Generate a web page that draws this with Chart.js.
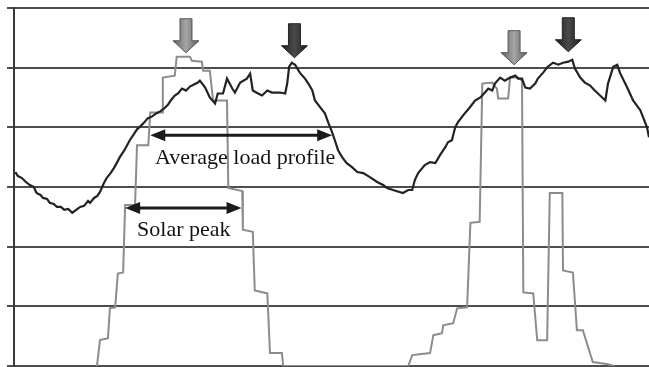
<!DOCTYPE html>
<html>
<head>
<meta charset="utf-8">
<script src="https://cdn.jsdelivr.net/npm/chart.js@4.4.1/dist/chart.umd.min.js"></script>
<style>
  html, body { margin: 0; padding: 0; background: #fff; }
  #wrap { width: 649px; height: 367px; }
</style>
</head>
<body>
<div id="wrap"><canvas id="chart" width="649" height="367"></canvas></div>
<script>
// time in hours, load / solar in kW
const loadTime = [0.1, 0.3, 0.6, 0.9, 1.2, 1.5, 1.7, 2.0, 2.2, 2.5, 2.7, 3.0, 3.25, 3.55, 3.8, 4.1, 4.4, 4.7, 5.0, 5.3,
  5.6, 5.75, 6.05, 6.3, 6.5, 6.8, 7.0, 7.3, 7.55, 7.8, 8.0, 8.3, 8.55, 8.75, 9.05, 9.3, 9.55, 9.85, 10.1, 10.45,
  10.75, 11.05, 11.35, 11.65, 11.85, 12.15, 12.4, 12.7, 13.0, 13.3, 13.6, 13.9, 14.05, 14.45, 14.8, 15.2, 15.4, 15.8, 16.1, 16.5,
  16.7, 17.1, 17.6, 17.85, 18.05, 18.45, 18.75, 19.15, 19.5, 20.1, 20.5, 20.65, 20.8, 21.0, 21.25, 21.6, 22.0, 22.25, 22.55, 22.75,
  23.15, 23.5, 23.75, 24.05, 24.25, 24.5, 24.8, 25.15, 25.55, 25.95, 26.4, 26.9, 27.45, 27.9, 28.2, 28.65, 29.4, 29.8, 30.1, 30.3,
  30.55, 31.05, 31.45, 31.85, 32.2, 32.6, 32.8, 33.1, 33.35, 33.55, 33.95, 34.45, 34.85, 35.25, 35.6, 35.85, 36.15, 36.35, 36.75, 37.1,
  37.5, 37.9, 38.1, 38.4, 38.65, 39.0, 39.4, 39.6, 40.0, 40.35, 40.75, 41.15, 41.5, 41.9, 42.2, 42.4, 42.8, 43.15, 43.55, 43.9,
  44.3, 44.7, 44.9, 45.3, 45.6, 45.8, 46.35, 46.8, 47.35, 47.85, 48.0];
const loadValue = [19.5, 19.1, 18.9, 18.5, 18.2, 18.0, 17.4, 17.2, 16.9, 16.8, 16.4, 16.3, 16.0, 16.0, 15.7, 15.8, 15.4, 15.7, 16.0, 16.1,
  16.6, 16.4, 16.9, 17.1, 17.5, 18.4, 18.9, 19.4, 19.9, 20.5, 21.0, 21.6, 22.2, 22.7, 23.3, 23.8, 24.1, 24.5, 24.9, 25.1,
  25.4, 25.6, 25.9, 26.3, 26.7, 27.2, 27.4, 27.9, 27.7, 28.1, 28.3, 28.5, 28.7, 28.0, 27.0, 26.4, 27.4, 27.4, 28.9, 27.9,
  27.5, 28.5, 28.9, 29.4, 27.7, 27.4, 27.2, 27.7, 27.5, 27.5, 27.4, 28.4, 30.1, 30.5, 30.3, 29.5, 28.9, 28.4, 27.7, 26.7,
  26.0, 25.4, 24.5, 23.5, 22.7, 21.7, 21.0, 20.4, 20.0, 19.5, 19.4, 19.0, 18.5, 18.2, 17.9, 17.7, 17.4, 17.7, 17.7, 18.7,
  19.4, 20.2, 20.5, 20.4, 21.2, 22.0, 22.5, 22.7, 24.0, 24.5, 25.2, 26.0, 26.7, 27.0, 27.5, 27.9, 27.7, 28.4, 29.0, 28.7,
  29.0, 29.2, 28.9, 28.9, 28.0, 27.9, 28.4, 28.9, 29.5, 30.1, 30.5, 30.3, 30.5, 30.6, 30.8, 29.9, 29.0, 28.5, 28.2, 27.7,
  27.2, 26.7, 28.4, 30.1, 30.3, 29.5, 28.0, 26.7, 25.7, 24.0, 23.0];

const solarTime = [6.27, 6.5, 7.1, 7.25, 7.65, 7.85, 8.25, 8.4, 9.15, 9.3, 10.15, 10.3, 11.2, 11.25, 12.15, 12.3, 13.3, 13.45, 14.2, 14.3,
  14.8, 15.05, 16.1, 16.2, 17.25, 17.3, 18.05, 18.2, 19.15, 19.35, 20.25, 20.35,
  29.8, 30.1, 31.45, 31.7, 32.35, 32.45, 33.2, 33.5, 34.25, 34.5, 35.2, 35.4, 36.15, 36.5, 36.6, 37.35, 37.5, 38.1,
  38.4, 38.5, 39.25, 39.55, 40.3, 40.5, 41.45, 41.5, 42.25, 42.55, 43.0, 43.75, 44.8, 45.4];
const solarValue = [0, 2.6, 2.8, 5.8, 5.9, 9.3, 9.4, 16.2, 16.2, 22.2, 22.2, 25.5, 25.5, 29.0, 29.2, 31.1, 31.1, 30.7, 30.6, 29.7,
  29.7, 26.7, 26.7, 17.9, 17.6, 13.7, 13.5, 7.6, 7.3, 1.3, 1.3, 0,
  0, 1.1, 1.3, 3.1, 3.3, 4.1, 4.3, 5.8, 5.9, 14.4, 14.5, 28.4, 28.5, 27.9, 26.9, 26.9, 29.0, 29.0,
  28.7, 7.4, 7.3, 2.6, 2.6, 17.4, 17.4, 9.6, 9.4, 3.6, 3.6, 0.4, 0.2, 0];

// peak markers: tip position (hour, kW) and whether it marks solar (light) or load (dark)
const peakTime = [13.0, 21.2, 37.8, 41.9];
const peakValue = [31.5, 31.0, 30.3, 31.6];
const peakKind = ['solar', 'load', 'solar', 'load'];

// span labels
const spanLabels = ['Average load profile', 'Solar peak'];
const spanFrom = [10.3, 8.4];
const spanTo = [24.05, 17.2];
const spanLevel = [23.2, 15.9];
const labelTime = [10.65, 9.3];
const labelValue = [20.3, 13.1];

const toXY = (xs, ys) => xs.map((x, i) => ({ x: x, y: ys[i] }));

function drawDownArrow(ctx, x, tipY, kind) {
  const len = 34, shaftW = 12, headW = 26, headH = 12;
  const top = tipY - len;
  ctx.save();
  ctx.beginPath();
  ctx.moveTo(x - shaftW / 2, top);
  ctx.lineTo(x + shaftW / 2, top);
  ctx.lineTo(x + shaftW / 2, tipY - headH);
  ctx.lineTo(x + headW / 2, tipY - headH);
  ctx.lineTo(x, tipY);
  ctx.lineTo(x - headW / 2, tipY - headH);
  ctx.lineTo(x - shaftW / 2, tipY - headH);
  ctx.closePath();
  const g = ctx.createLinearGradient(x - headW / 2, 0, x + headW / 2, 0);
  if (kind === 'solar') {
    g.addColorStop(0, '#5e5e5e');
    g.addColorStop(0.5, '#a6a6a6');
    g.addColorStop(1, '#5e5e5e');
    ctx.strokeStyle = '#555';
  } else {
    g.addColorStop(0, '#1e1e1e');
    g.addColorStop(0.5, '#4a4a4a');
    g.addColorStop(1, '#1e1e1e');
    ctx.strokeStyle = '#222';
  }
  ctx.fillStyle = g;
  ctx.lineWidth = 1;
  ctx.fill();
  ctx.stroke();
  ctx.restore();
}

function drawDoubleArrow(ctx, x1, x2, y) {
  const headL = 15, headH = 6;
  ctx.save();
  ctx.strokeStyle = '#1a1a1a';
  ctx.fillStyle = '#1a1a1a';
  ctx.lineWidth = 3;
  ctx.beginPath();
  ctx.moveTo(x1 + headL - 2, y);
  ctx.lineTo(x2 - headL + 2, y);
  ctx.stroke();
  ctx.beginPath();
  ctx.moveTo(x1, y);
  ctx.lineTo(x1 + headL, y - headH);
  ctx.lineTo(x1 + headL, y + headH);
  ctx.closePath();
  ctx.fill();
  ctx.beginPath();
  ctx.moveTo(x2, y);
  ctx.lineTo(x2 - headL, y - headH);
  ctx.lineTo(x2 - headL, y + headH);
  ctx.closePath();
  ctx.fill();
  ctx.restore();
}

const annotations = {
  id: 'annotations',
  afterDatasetsDraw(chart) {
    const ctx = chart.ctx;
    const xs = chart.scales.x, ys = chart.scales.y;
    spanLabels.forEach((text, i) => {
      drawDoubleArrow(ctx, xs.getPixelForValue(spanFrom[i]), xs.getPixelForValue(spanTo[i]), ys.getPixelForValue(spanLevel[i]));
      ctx.save();
      ctx.font = '22px "Liberation Serif", "DejaVu Serif", serif';
      ctx.fillStyle = '#141414';
      ctx.textAlign = 'left';
      ctx.textBaseline = 'alphabetic';
      ctx.fillText(text, xs.getPixelForValue(labelTime[i]), ys.getPixelForValue(labelValue[i]));
      ctx.restore();
    });
    peakTime.forEach((t, i) => {
      drawDownArrow(ctx, xs.getPixelForValue(t), ys.getPixelForValue(peakValue[i]), peakKind[i]);
    });
  }
};

new Chart(document.getElementById('chart'), {
  type: 'line',
  data: {
    datasets: [{
      label: 'Load',
      data: toXY(loadTime, loadValue),
      borderColor: '#222',
      borderWidth: 2.2,
      pointRadius: 0,
      tension: 0,
    }, {
      label: 'Solar',
      data: toXY(solarTime, solarValue),
      borderColor: '#8c8c8c',
      borderWidth: 2,
      pointRadius: 0,
      tension: 0,
    }],
  },
  options: {
    responsive: false,
    animation: false,
    layout: {
      padding: { left: 7, top: 8, right: 0, bottom: 1 }
    },
    plugins: {
      legend: { display: false },
      tooltip: { enabled: false }
    },
    scales: {
      x: {
        type: 'linear',
        min: 0,
        max: 48,
        display: false,
      },
      y: {
        min: 0,
        max: 36,
        ticks: {
          display: false,
          stepSize: 6,
        },
        grid: {
          color: '#4d4d4d',
          lineWidth: 2,
          tickLength: 7,
        },
        border: {
          display: true,
          color: '#3a3a3a',
          width: 2,
        },
      }
    }
  },
  plugins: [annotations]
});
</script>
</body>
</html>
